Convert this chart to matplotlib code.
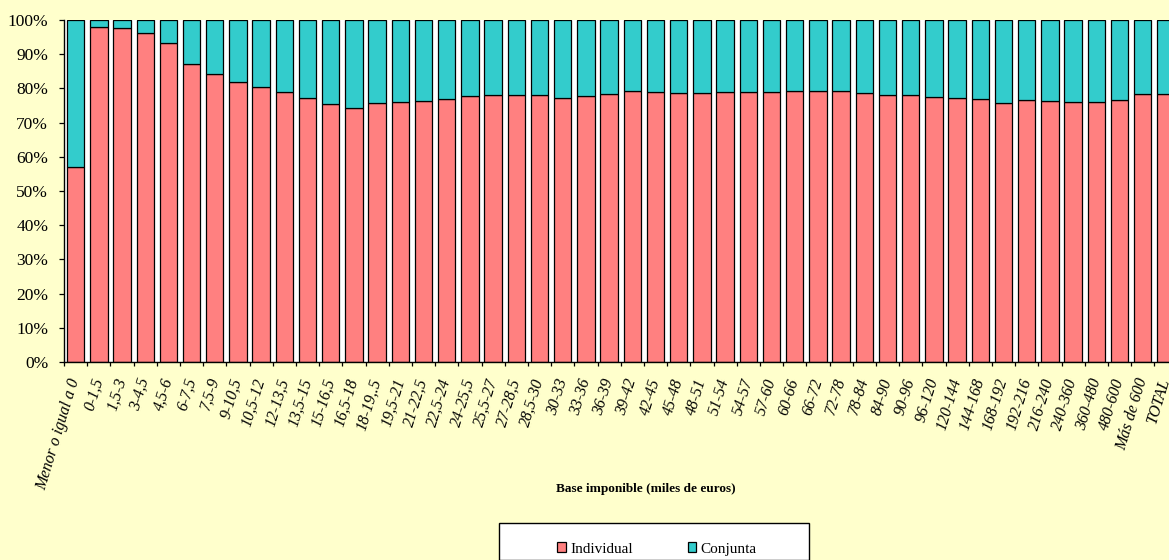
"""Distribución de declaraciones individual / conjunta por tramos de base imponible."""

import matplotlib

matplotlib.use("Agg")
import matplotlib.pyplot as plt
from matplotlib.patches import Rectangle
from matplotlib.ticker import FixedLocator, PercentFormatter

plt.rcParams["font.family"] = ["Liberation Serif", "DejaVu Serif"]

TRAMOS = [
    "Menor o igual a 0", "0-1,5", "1,5-3", "3-4,5", "4,5-6", "6-7,5", "7,5-9",
    "9-10,5", "10,5-12", "12-13,5", "13,5-15", "15-16,5", "16,5-18", "18-19,.5",
    "19,5-21", "21-22,5", "22,5-24", "24-25,5", "25,5-27", "27-28,5", "28,5-30",
    "30-33", "33-36", "36-39", "39-42", "42-45", "45-48", "48-51", "51-54",
    "54-57", "57-60", "60-66", "66-72", "72-78", "78-84", "84-90", "90-96",
    "96-120", "120-144", "144-168", "168-192", "192-216", "216-240", "240-360",
    "360-480", "480-600", "Más de 600", "TOTAL",
]

# % de declaraciones individuales (el resto hasta 100% son conjuntas)
INDIVIDUAL = [
    57.0, 98.0, 97.7, 96.2, 93.2, 87.0, 84.2, 81.9, 80.4, 79.0, 77.1, 75.5,
    74.3, 75.6, 75.9, 76.4, 77.0, 77.8, 78.0, 78.1, 78.0, 77.3, 77.7, 78.5,
    79.2, 79.0, 78.8, 78.7, 79.0, 79.0, 79.0, 79.1, 79.1, 79.1, 78.6, 78.2,
    78.0, 77.5, 77.2, 76.9, 75.8, 76.7, 76.2, 76.0, 76.1, 76.5, 78.3, 78.5,
]
CONJUNTA = [100 - v for v in INDIVIDUAL]

W, H = 1169, 560
fig = plt.figure(figsize=(W / 100, H / 100), dpi=100, facecolor="#FFFFCC")

left, right, top, bottom = 64, 1177.6, 20, 362
ax = fig.add_axes([left / W, 1 - bottom / H, (right - left) / W, (bottom - top) / H])
ax.set_facecolor("white")

x = list(range(len(TRAMOS)))
ax.bar(x, INDIVIDUAL, width=0.75, color="#FF8080", edgecolor="black",
       linewidth=0.9, label="Individual")
ax.bar(x, CONJUNTA, width=0.75, bottom=INDIVIDUAL, color="#33CCCC",
       edgecolor="black", linewidth=0.9, label="Conjunta")

ax.set_xlim(-0.5, len(TRAMOS) - 0.5)
ax.set_ylim(0, 100)
ax.set_yticks(range(0, 101, 10))
ax.yaxis.set_major_formatter(PercentFormatter(decimals=0))
ax.tick_params(axis="y", direction="out", length=3.4, width=0.9,
               labelsize=12.5, pad=8)

ax.set_xticks(x)
ax.set_xticklabels(TRAMOS, rotation=73, ha="right", va="center",
                   rotation_mode="anchor", fontstyle="italic", fontsize=11.5)
ax.xaxis.set_minor_locator(FixedLocator([i - 0.5 for i in range(len(TRAMOS) + 1)]))
ax.tick_params(axis="x", which="major", length=0, pad=12)
ax.tick_params(axis="x", which="minor", direction="out", length=3, width=0.9)

for side in ("top", "right"):
    ax.spines[side].set_visible(False)
for side in ("left", "bottom"):
    ax.spines[side].set_linewidth(1.0)

fig.text(646 / W, 1 - 489 / H, "Base imponible (miles de euros)",
         ha="center", va="center", fontsize=9.5, fontweight="bold")

# legend frame (drawn by hand, Excel-style box cut by the bottom edge)
fig.patches.append(Rectangle((499 / W, 0), (809 - 499) / W, (H - 534) / H + 0.02,
                             transform=fig.transFigure, facecolor="white",
                             edgecolor="black", linewidth=1.0, zorder=1))
leg = fig.legend(loc="center", bbox_to_anchor=(657 / W, 1 - 549 / H), ncol=2,
                 frameon=False, fontsize=11, handlelength=0.55,
                 handleheight=0.55, handletextpad=0.3, columnspacing=3.6)
leg.set_zorder(2)

fig.savefig("out.png", dpi=100, facecolor=fig.get_facecolor())
